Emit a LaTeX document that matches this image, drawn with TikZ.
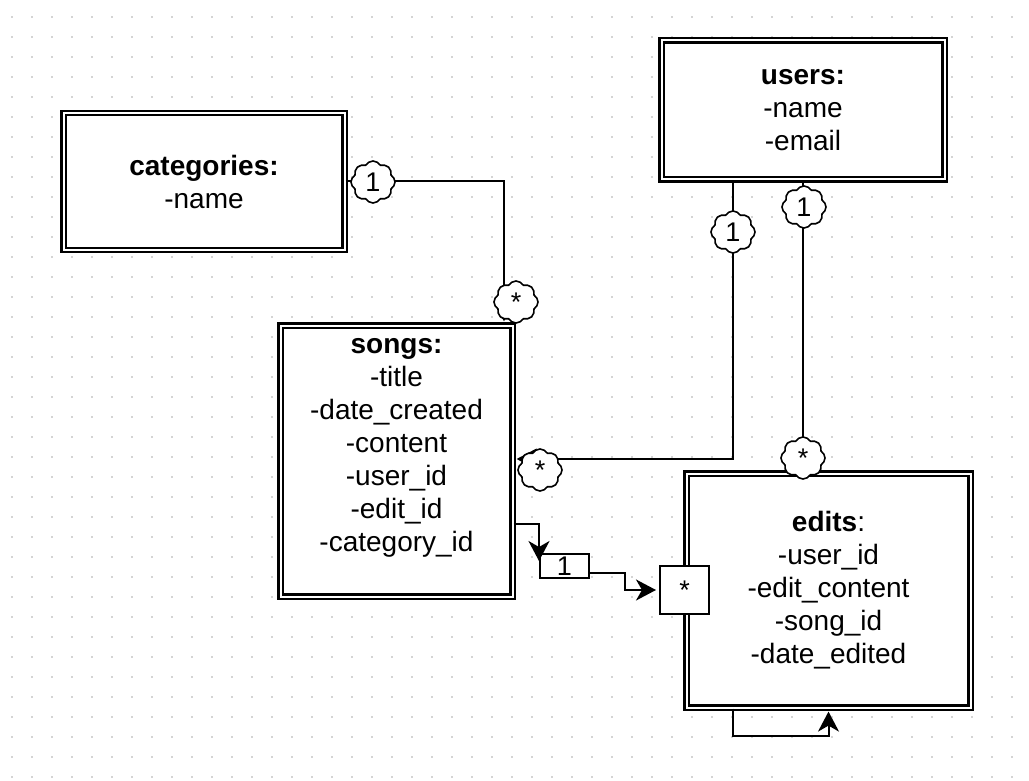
\documentclass[tikz,border=0pt]{standalone}
\usepackage{fontspec}
\setmainfont{Liberation Sans}
\usetikzlibrary{arrows.meta,shapes.symbols}
\definecolor{griddot}{RGB}{212,212,212}

\tikzset{
  table/.style={draw, double, line width=2.2pt, double distance=2pt, fill=white,
    align=center, inner sep=0pt, font=\fontsize{28}{33}\selectfont},
  tag/.style={cloud, cloud puffs=8, cloud puff arc=120, aspect=1, draw,
    line width=1.6pt, fill=white, inner sep=0pt, minimum width=44pt,
    minimum height=42pt, font=\fontsize{27}{27}\selectfont},
  flag/.style={draw, line width=2pt, fill=white, inner sep=0pt,
    font=\fontsize{27}{27}\selectfont},
  link/.style={line width=2pt},
  arr/.style={link, -{Stealth[length=20pt,width=21pt,inset=6pt]}, shorten >=3pt},
}

\begin{document}
\begin{tikzpicture}[x=1pt,y=-1pt]
\useasboundingbox (0,0) rectangle (1029,781);
\fill[white] (0,0) rectangle (1029,781);

% dotted grid
\foreach \i in {0,...,50} {
  \foreach \j in {0,...,38} {
    \fill[griddot] (11+20*\i,16+20*\j) rectangle ++(2,2);
  }
}

% tables
\node[table, minimum width=281pt, minimum height=137pt] (categories) at (204,181.5)
  {\textbf{categories:}\\-name};
\node[table, minimum width=283pt, minimum height=139pt] (users) at (803,110)
  {\textbf{users:}\\-name\\-email};
\node[table, minimum width=232pt, minimum height=271pt] (songs) at (396.5,461)
  {\textbf{songs:}\\-title\\-date\_created\\-content\\-user\_id\\-edit\_id\\-category\_id\\ \mbox{}};
\node[table, minimum width=284pt, minimum height=234pt] (edits) at (828.5,590.5)
  {\textbf{edits}:\\-user\_id\\-edit\_content\\-song\_id\\-date\_edited};

% labels of songs -> edits
\node[flag, minimum width=49pt, minimum height=24pt] (one) at (564.5,566) {1};
\node[flag, minimum width=49pt, minimum height=48pt] (many) at (684.5,590) {*};

% relations
\draw[arr] (categories.east) -| ([xshift=107.5pt]songs.north);
\draw[arr] ([xshift=-70pt]users.south) |- ([yshift=2pt]songs.east);
\draw[arr] (users.south) -- (users.south |- edits.north);
\draw[arr] ([yshift=-63pt]songs.east) -| ([yshift=-11pt]one.north west);
\draw[arr] ([yshift=-7pt]one.east) -- ++(35,0) |- (many.west);
\draw[arr] ([xshift=-96pt]edits.south) -- ++(0,27.5) -| (edits.south);

% multiplicities
\node[tag] (c1) at (373,182) {1};
\node[tag] (s1) at (516,302) {*};
\node[tag] (u1) at (733,232) {1};
\node[tag] (s2) at (540,470) {*};
\node[tag] (u2) at (804,207) {1};
\node[tag] (e1) at (803,458) {*};
\end{tikzpicture}
\end{document}
